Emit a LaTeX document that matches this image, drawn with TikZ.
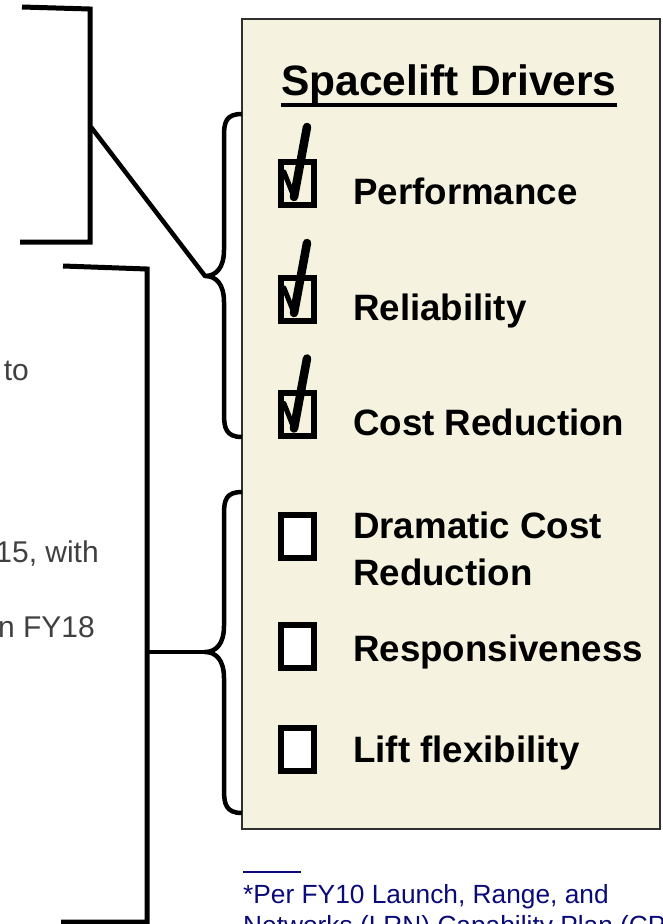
\documentclass[tikz,border=0pt]{standalone}
\usepackage{fontspec}
\setmainfont{Liberation Sans}

\definecolor{panelfill}{HTML}{F5F2DF}
\definecolor{panelline}{HTML}{303030}
\definecolor{cluegray}{HTML}{404040}
\definecolor{notenavy}{HTML}{0A0A78}

\tikzset{
  chkbox/.style={draw, line width=6pt, minimum width=33pt, minimum height=43pt, inner sep=0pt},
  emptybox/.style={chkbox, fill=white},
  driver/.style={anchor=base west, inner sep=0pt, align=left,
    font=\bfseries\fontsize{36.7}{47}\selectfont},
  clue/.style={anchor=base east, inner sep=0pt, text=cluegray,
    font=\fontsize{30}{36}\selectfont},
  bracket/.style={line width=5pt},
  brace/.style={line width=4.5pt, line join=round},
  tickline/.style={line cap=round, line join=round},
}

\begin{document}
\begin{tikzpicture}[x=1pt,y=-1pt]
    \useasboundingbox (0,0) rectangle (663,924);
    \clip (0,0) rectangle (663,924);
    % panel
    \node[draw=panelline, fill=panelfill, line width=2pt, minimum width=418pt,
      minimum height=810pt, inner sep=0pt] (panel) at (451,424) {};
    \node[anchor=base west, inner sep=0pt, font=\bfseries\fontsize{42.5}{50}\selectfont]
      (title) at (281,95) {Spacelift Drivers};
    \draw[line width=3.5pt] ([yshift=-10pt]title.base west) -- ([yshift=-10pt]title.base east);
    % drivers
    \node[chkbox] (bperf) at (297,183) {};
    \node[chkbox] (breli) at (297,299) {};
    \node[chkbox] (bcost) at (297,414.5) {};
    \node[emptybox] (bdram) at (297,536) {};
    \node[emptybox] (bresp) at (297,646.5) {};
    \node[emptybox] (blift) at (297,749) {};
    \node[driver] (perf) at (353,204) {Performance};
    \node[driver] (reli) at (353,320) {Reliability};
    \node[driver] (cost) at (353,435) {Cost Reduction};
    \node[driver] (dram) at (353,585) {Dramatic Cost\\Reduction};
    \node[driver] (resp) at (353,661) {Responsiveness};
    \node[driver] (lift) at (353,762) {Lift flexibility};
    % ticks
    \foreach \b in {bperf,breli,bcost} {
      \draw[tickline, line width=8.5pt] ([shift={(10,-56)}]\b.center) -- ([shift={(-3,14)}]\b.center);
      \draw[tickline, line width=5pt] ([shift={(-13,-11)}]\b.center) -- ([shift={(-3,14)}]\b.center);
    }
    % braces
    \coordinate (ucusp) at (205,276);
    \coordinate (lcusp) at (205,652);
    \draw[brace] (242,114) .. controls (226,114) and (224,122) .. (224,136) -- (224,250)
      .. controls (224,268) and (216,276) .. (ucusp)
      .. controls (216,276) and (224,284) .. (224,302) -- (224,414)
      .. controls (224,428) and (226,437) .. (242,437);
    \draw[brace] (242,492) .. controls (226,492) and (224,500) .. (224,514) -- (224,626)
      .. controls (224,644) and (216,652) .. (lcusp)
      .. controls (216,652) and (224,660) .. (224,678) -- (224,790)
      .. controls (224,804) and (226,813) .. (242,813);
    % brackets
    \draw[bracket] (22,7) -- (90,9) |- (20,242);
    \draw[bracket] (63,266) -- (147,269) |- (61,922);
    \coordinate (ubr) at (91,127);
    \coordinate (lbr) at (147,652);
    \draw[bracket, line width=4.5pt] (ubr) -- (ucusp);
    \draw[bracket, line width=4.5pt] (lbr) -- (lcusp);
    % clipped text
    \node[clue] (clue1) at (29,380) {to};
    \node[clue] (clue2) at (99,562) {15, with};
    \node[clue] (clue3) at (95,637) {n FY18};
    % footnote
    \draw[notenavy, line width=1.5pt] (243,872) -- (301,872);
    \node[anchor=base west, inner sep=0pt, text=notenavy, align=left,
      font=\fontsize{26.3}{31}\selectfont] (note) at (243,934)
      {*Per FY10 Launch, Range, and\\Networks (LRN) Capability Plan (CP};
\end{tikzpicture}
\end{document}
